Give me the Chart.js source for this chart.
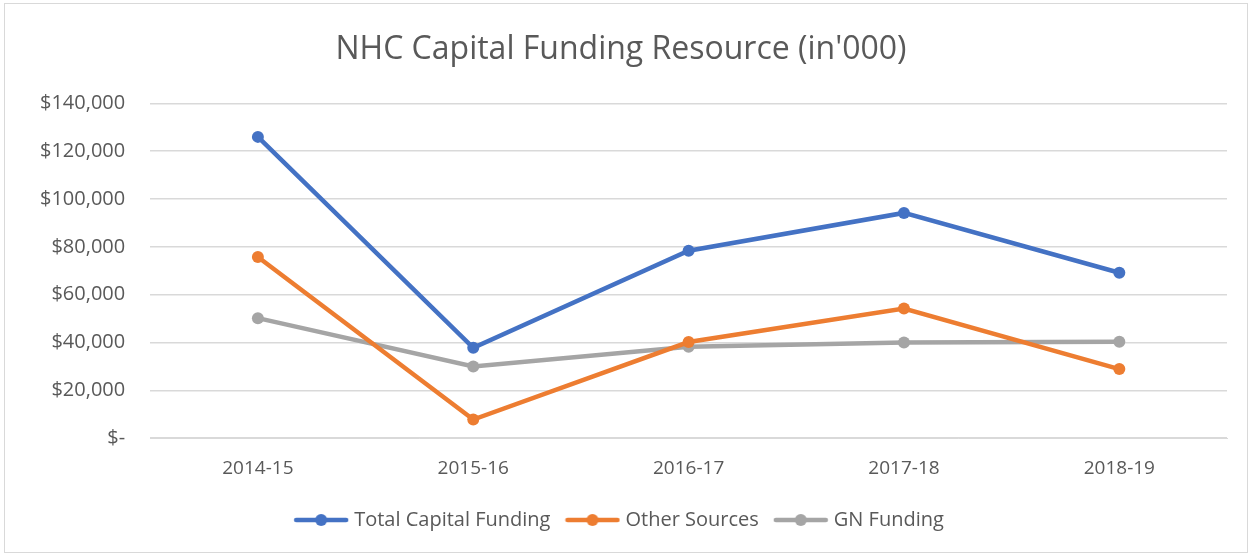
<!DOCTYPE html>
<html>
<head>
<meta charset="utf-8">
<script src="https://cdn.jsdelivr.net/npm/chart.js@4"></script>
<style>
  html, body { margin: 0; padding: 0; background: #fff; }
  #wrap { position: absolute; left: 4px; top: 3px; width: 1244px; height: 550px; border: 1px solid #d9d9d9; box-sizing: border-box; }
  canvas { display: block; }
</style>
</head>
<body>
<div id="wrap"><canvas id="chart"></canvas></div>
<script>
const years = ["2014-15", "2015-16", "2016-17", "2017-18", "2018-19"];
const totalFunding = [126000, 37800, 78400, 94200, 69200];
const otherSources = [75800, 7800, 40200, 54200, 28900];
const gnFunding = [50200, 30000, 38200, 40000, 40300];
const yTicks = [0, 20000, 40000, 60000, 80000, 100000, 120000, 140000];

const blue = "#4472c4";
const orange = "#ed7d31";
const grey = "#a5a5a5";

function legendIcon(color) {
  const c = document.createElement("canvas");
  c.width = 56;
  c.height = 14;
  const ctx = c.getContext("2d");
  ctx.strokeStyle = color;
  ctx.lineWidth = 4.5;
  ctx.lineCap = "round";
  ctx.beginPath();
  ctx.moveTo(3, 7);
  ctx.lineTo(53, 7);
  ctx.stroke();
  ctx.fillStyle = color;
  ctx.beginPath();
  ctx.arc(28, 7, 6, 0, Math.PI * 2);
  ctx.fill();
  return c;
}

const series = [
  { label: "Total Capital Funding", data: totalFunding, color: blue },
  { label: "Other Sources", data: otherSources, color: orange },
  { label: "GN Funding", data: gnFunding, color: grey }
];

new Chart(document.getElementById("chart"), {
  type: "line",
  data: {
    labels: years,
    datasets: series.map((s) => ({
      label: s.label,
      data: s.data,
      borderColor: s.color,
      backgroundColor: s.color,
      borderWidth: 4.5,
      pointStyle: "circle",
      pointRadius: 6,
      pointHoverRadius: 6,
      pointBorderWidth: 0,
      tension: 0
    }))
  },
  options: {
    responsive: true,
    maintainAspectRatio: false,
    animation: false,
    layout: { padding: { left: 10, right: 20, top: 10, bottom: 12 } },
    plugins: {
      title: {
        display: true,
        text: "NHC Capital Funding Resource (in'000)",
        color: "#595959",
        font: { family: "Open Sans", size: 32, weight: "normal" },
        padding: { top: 17, bottom: 34 }
      },
      legend: {
        position: "bottom",
        labels: {
          usePointStyle: true,
          pointStyleWidth: 46,
          boxHeight: 14,
          generateLabels: (chart) =>
            series.map((s, i) => ({
              text: s.label,
              pointStyle: legendIcon(s.color),
              fontColor: "#595959",
              lineWidth: 0,
              datasetIndex: i
            })),
          color: "#595959",
          font: { family: "Open Sans", size: 20 },
          padding: 19
        }
      },
      tooltip: { enabled: false }
    },
    scales: {
      x: {
        offset: true,
        grid: { display: false },
        border: { color: "#d9d9d9" },
        ticks: { color: "#595959", font: { family: "Open Sans", size: 19 }, padding: 11 }
      },
      y: {
        min: 0,
        max: 140000,
        afterBuildTicks: (axis) => { axis.ticks = yTicks.map((v) => ({ value: v })); },
        grid: { color: "#d9d9d9", lineWidth: 1.5, drawTicks: false },
        border: { display: false },
        ticks: {
          color: "#595959",
          font: { family: "Open Sans", size: 20 },
          padding: 25,
          callback: (v) => (v === 0 ? "$-" : "$" + v.toLocaleString("en-US"))
        }
      }
    }
  }
});
</script>
</body>
</html>
